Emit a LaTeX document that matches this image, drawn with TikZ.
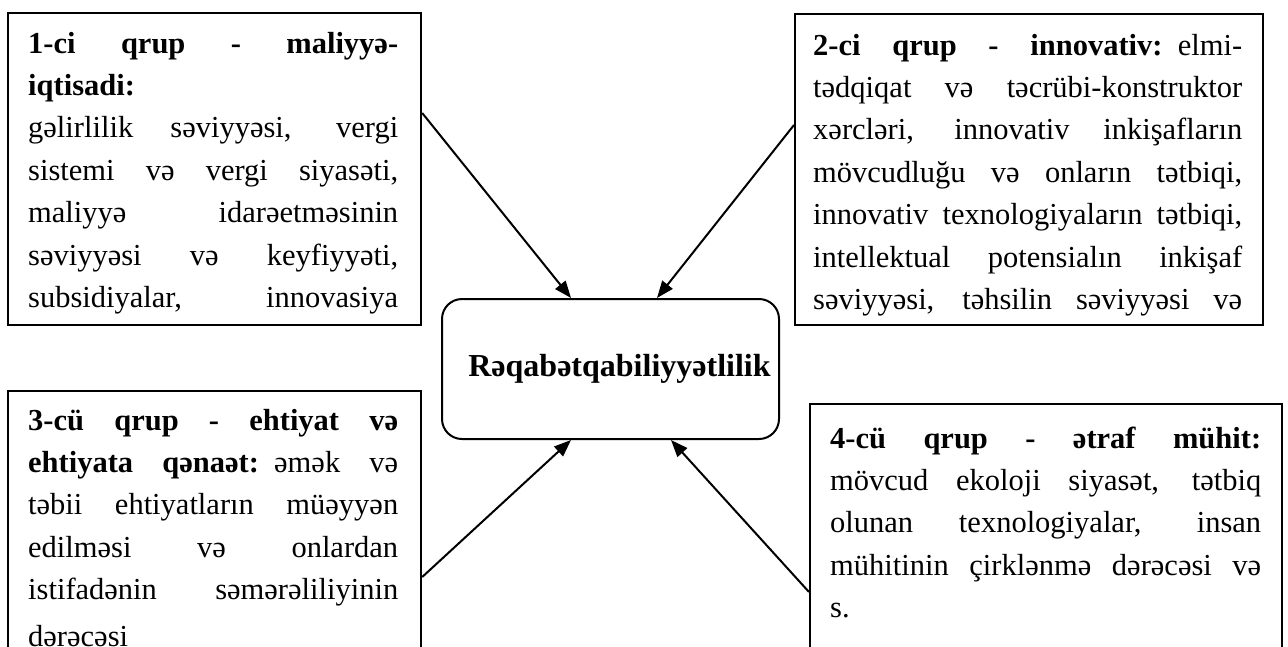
\documentclass[tikz,border=0pt]{standalone}
\usepackage{fontspec}
\setmainfont{Liberation Serif}
\usepackage{tikz}
\usetikzlibrary{arrows.meta, positioning, calc}
% one justified line: the word gaps are stretched to the full width
\newcommand{\jline}[1]{{\spaceskip=0.25em plus 1fil\relax\makebox[\hsize][s]{#1}}}
\hbadness=10000

\begin{document}
\begin{tikzpicture}[
    x=1pt, y=-1pt,
    >={Triangle[length=17pt, width=13pt]},
    grp/.style={draw, line width=2.2pt, anchor=north west, inner sep=0pt},
    txt/.style={anchor=base west, inner sep=0pt, align=left, font=\fontsize{30.5}{42.4}\selectfont},
    core/.style={draw, line width=2pt, rounded corners=20pt, minimum width=337pt,
                 minimum height=140pt, font=\fontsize{32}{38}\selectfont\bfseries},
    link/.style={->, line width=2pt}
]
\useasboundingbox (0,0) rectangle (1288,646);
\clip (0,0) rectangle (1288,646);

% ==========================================
% 1. Group boxes
% ==========================================
\node[grp, minimum width=413pt, minimum height=312pt] (GrpA) at (7,12) {};   % top left
\node[grp, minimum width=468pt, minimum height=311pt] (GrpB) at (794,13) {}; % top right
\node[grp, minimum width=413pt, minimum height=290pt] (GrpC) at (7,390) {};  % bottom left
\node[grp, minimum width=472pt, minimum height=280pt] (GrpD) at (809,403) {};% bottom right

% ==========================================
% 2. Texts of the groups
% ==========================================
\node[txt, text width=370pt] (txtA) at ($(GrpA.north west)+(21,41)$) {%
\jline{\textbf{1-ci qrup - maliyyə-}}\\
\textbf{iqtisadi:}\\
\jline{gəlirlilik səviyyəsi, vergi}\\
\jline{sistemi və vergi siyasəti,}\\
\jline{maliyyə idarəetməsinin}\\
\jline{səviyyəsi və keyfiyyəti,}\\
\jline{subsidiyalar, innovasiya}};

\node[txt, text width=429pt] (txtB) at ($(GrpB.north west)+(19,42)$) {%
\jline{\textbf{2-ci qrup - innovativ:} elmi-}\\
\jline{tədqiqat və təcrübi-konstruktor}\\
\jline{xərcləri, innovativ inkişafların}\\
\jline{mövcudluğu və onların tətbiqi,}\\
\jline{innovativ texnologiyaların tətbiqi,}\\
\jline{intellektual potensialın inkişaf}\\
\jline{səviyyəsi, təhsilin səviyyəsi və}};

\node[txt, text width=370pt] (txtC) at ($(GrpC.north west)+(21,40)$) {%
\jline{\textbf{3-cü qrup - ehtiyat və}}\\
\jline{\textbf{ehtiyata qənaət:} əmək və}\\
\jline{təbii ehtiyatların müəyyən}\\
\jline{edilməsi və onlardan}\\
\jline{istifadənin səmərəliliyinin}\\[4pt]
dərəcəsi};

\node[txt, text width=431pt] (txtD) at ($(GrpD.north west)+(21,45)$) {%
\jline{\textbf{4-cü qrup - ətraf mühit:}}\\
\jline{mövcud ekoloji siyasət, tətbiq}\\
\jline{olunan texnologiyalar, insan}\\
\jline{mühitinin çirklənmə dərəcəsi və}\\
s.};

% ==========================================
% 3. Centre box and arrows
% ==========================================
\node[core] (Core) at (610.5,369) {\hspace*{18pt}Rəqabətqabiliyyətlilik};

\draw[link] ([yshift=-101pt]GrpA.north east) -- ([xshift=-39.5pt]Core.north);
\draw[link] ([yshift=-112pt]GrpB.north west) -- ([xshift=46.5pt]Core.north);
\draw[link] ([yshift=-187pt]GrpC.north east) -- ([xshift=-39.5pt]Core.south);
\draw[link] ([yshift=-189pt]GrpD.north west) -- ([xshift=60.5pt]Core.south);

\end{tikzpicture}
\end{document}
